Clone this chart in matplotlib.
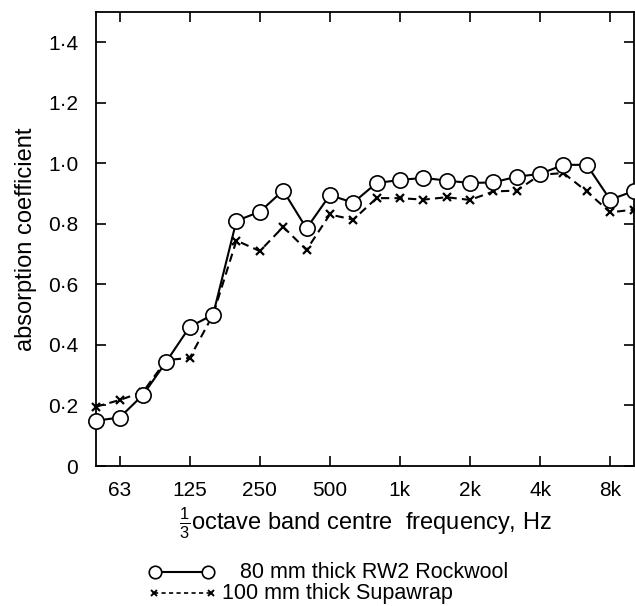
import numpy as np
import matplotlib.pyplot as plt
from matplotlib.lines import Line2D

plt.rcParams['font.family'] = ['Liberation Sans', 'DejaVu Sans']
plt.rcParams['mathtext.fontset'] = 'custom'
plt.rcParams['mathtext.rm'] = 'Liberation Sans'

# 1/3 octave bands, 50 Hz .. 10 kHz (band index relative to 1 kHz)
band_index = np.arange(-13, 11)
freq = 1000 * 2.0 ** (band_index / 3)

# absorption coefficients
rockwool = [0.15, 0.16, 0.235, 0.345, 0.46, 0.50, 0.81, 0.84, 0.91, 0.785,
            0.895, 0.87, 0.935, 0.945, 0.952, 0.943, 0.935, 0.937, 0.956, 0.965,
            0.995, 0.995, 0.88, 0.908]
supawrap = [0.196, 0.218, 0.245, 0.35, 0.357, 0.50, 0.745, 0.71, 0.79, 0.714,
            0.831, 0.814, 0.885, 0.885, 0.88, 0.888, 0.879, 0.907, 0.91, 0.962,
            0.968, 0.907, 0.838, 0.847]

xtick_freq = [62.5, 125, 250, 500, 1000, 2000, 4000, 8000]
xtick_labels = ['63', '125', '250', '500', '1k', '2k', '4k', '8k']
ytick_vals = [0, 0.2, 0.4, 0.6, 0.8, 1.0, 1.2, 1.4]
ytick_labels = ['0', '0·2', '0·4', '0·6', '0·8', '1·0', '1·2', '1·4']

fig = plt.figure(figsize=(6.35, 6.06), dpi=100)
ax = fig.add_axes([96.3 / 635, 140 / 606, 537.2 / 635, 454 / 606])

ax.plot(freq, supawrap, color='black', lw=1.5, ls=(0, (4, 2.5)), marker='x',
        ms=6, mew=1.6, clip_on=False, zorder=2)
ax.plot(freq, rockwool, color='black', lw=1.5, marker='o', ms=11,
        mfc='white', mec='black', mew=1.2, clip_on=False, zorder=3)

ax.set_xscale('log')
ax.set_xlim(1000 * 2.0 ** (-13 / 3), 1000 * 2.0 ** (10 / 3))
ax.set_ylim(0, 1.5)
ax.set_xticks(xtick_freq)
ax.set_xticklabels(xtick_labels)
ax.xaxis.set_minor_locator(plt.NullLocator())
ax.set_yticks(ytick_vals)
ax.set_yticklabels(ytick_labels)

ax.tick_params(axis='both', which='major', direction='in', length=7.5, width=1.2,
               top=True, right=True, labelsize=15)
ax.tick_params(axis='x', pad=11)
ax.tick_params(axis='y', pad=13)
for s in ax.spines.values():
    s.set_linewidth(1.3)

ax.set_xlabel(r'$\frac{1}{3}$octave band centre  frequency, Hz', fontsize=17, labelpad=4)
ax.set_ylabel('absorption coefficient', fontsize=17, labelpad=8)

# legend drawn underneath the axis label
fig.add_artist(Line2D([155 / 635, 208 / 635], [0.056, 0.056], color='black', lw=1.5,
                      marker='o', ms=9, mfc='white', mec='black', mew=1.2))
fig.add_artist(Line2D([154 / 635, 211 / 635], [0.021, 0.021], color='black', lw=1.2,
                      ls=(0, (2.5, 2)), marker='x', ms=5, mew=1.4))
fig.text(240 / 635, 0.056, '80 mm thick RW2 Rockwool', fontsize=15.5, va='center')
fig.text(222 / 635, 0.021, '100 mm thick Supawrap', fontsize=15.5, va='center')

fig.savefig('out.png', dpi=100)
